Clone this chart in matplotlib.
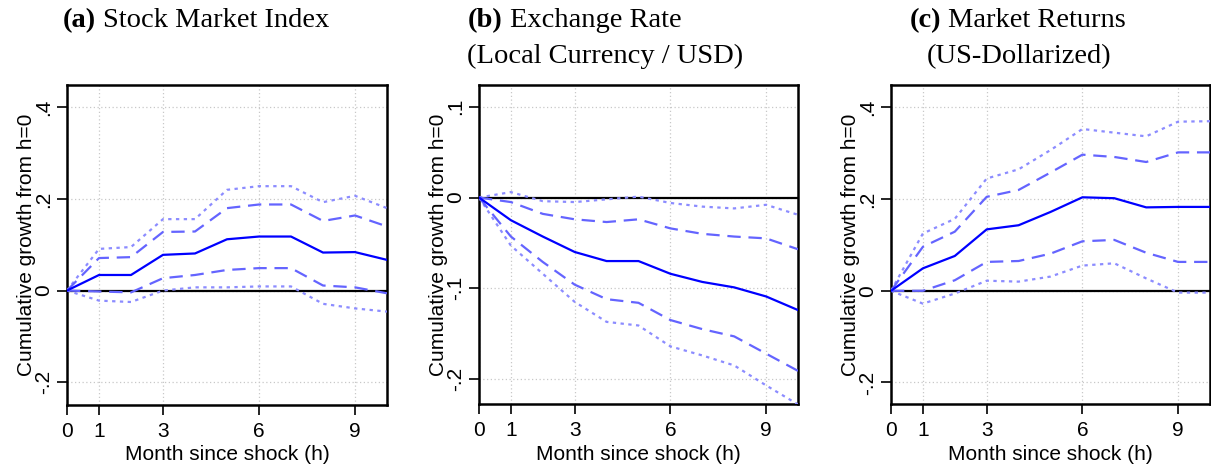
import matplotlib
matplotlib.use("Agg")
import matplotlib.pyplot as plt

h = [0, 1, 2, 3, 4, 5, 6, 7, 8, 9, 10]

# Panel (a) Stock Market Index
a_mean = [0, 0.034, 0.034, 0.078, 0.081, 0.112, 0.118, 0.118, 0.083, 0.084, 0.067]
a_up90 = [0, 0.071, 0.073, 0.128, 0.129, 0.180, 0.188, 0.188, 0.152, 0.164, 0.140]
a_lo90 = [0, -0.002, -0.004, 0.027, 0.034, 0.045, 0.049, 0.049, 0.011, 0.007, -0.006]
a_up95 = [0, 0.091, 0.095, 0.156, 0.156, 0.220, 0.228, 0.228, 0.193, 0.207, 0.180]
a_lo95 = [0, -0.022, -0.025, 0.000, 0.007, 0.007, 0.009, 0.009, -0.029, -0.039, -0.046]

# Panel (b) Exchange Rate
b_mean = [0, -0.025, -0.043, -0.060, -0.070, -0.070, -0.084, -0.093, -0.099, -0.109, -0.124]
b_up90 = [0, -0.005, -0.018, -0.024, -0.027, -0.024, -0.034, -0.040, -0.043, -0.045, -0.057]
b_lo90 = [0, -0.043, -0.071, -0.096, -0.112, -0.116, -0.135, -0.145, -0.153, -0.172, -0.191]
b_up95 = [0, 0.006, -0.004, -0.005, -0.002, 0.001, -0.006, -0.010, -0.012, -0.008, -0.019]
b_lo95 = [0, -0.053, -0.084, -0.115, -0.137, -0.141, -0.164, -0.174, -0.185, -0.207, -0.228]

# Panel (c) Market Returns (US-Dollarized)
c_mean = [0, 0.049, 0.076, 0.134, 0.143, 0.172, 0.204, 0.202, 0.182, 0.183, 0.183]
c_up90 = [0, 0.096, 0.129, 0.205, 0.220, 0.258, 0.297, 0.292, 0.281, 0.302, 0.302]
c_lo90 = [0, 0.000, 0.023, 0.063, 0.065, 0.081, 0.108, 0.111, 0.083, 0.063, 0.063]
c_up95 = [0, 0.125, 0.157, 0.245, 0.265, 0.307, 0.353, 0.345, 0.337, 0.369, 0.370]
c_lo95 = [0, -0.028, -0.006, 0.022, 0.020, 0.031, 0.055, 0.060, 0.027, -0.004, -0.004]

x_ticks = [0, 1, 3, 6, 9]
ac_yticks = [-0.2, 0, 0.2, 0.4]
ac_ylabels = ["-.2", "0", ".2", ".4"]
b_yticks = [-0.2, -0.1, 0, 0.1]
b_ylabels = ["-.2", "-.1", "0", ".1"]

W, H = 1211, 467
fig = plt.figure(figsize=(W / 100, H / 100), dpi=100)

sans = ["Liberation Sans", "DejaVu Sans"]
serif = ["Liberation Serif", "DejaVu Serif"]
FS = 15
TFS = 20.5

panels = [
    dict(left=67, right=387, top=85, bottom=405, data=(a_mean, a_up90, a_lo90, a_up95, a_lo95),
         ylim=(-0.25, 0.449), yt=ac_yticks, yl=ac_ylabels),
    dict(left=479, right=798, top=85, bottom=404, data=(b_mean, b_up90, b_lo90, b_up95, b_lo95),
         ylim=(-0.2275, 0.124), yt=b_yticks, yl=b_ylabels),
    dict(left=891, right=1210, top=85, bottom=404, data=(c_mean, c_up90, c_lo90, c_up95, c_lo95),
         ylim=(-0.247, 0.449), yt=ac_yticks, yl=ac_ylabels),
]

for p in panels:
    wpx = p["right"] - p["left"]
    hpx = p["bottom"] - p["top"]
    ax = fig.add_axes([p["left"] / W, 1 - p["bottom"] / H, wpx / W, hpx / H])
    mean, up90, lo90, up95, lo95 = p["data"]
    ax.grid(True, color="#c8c8c8", linestyle=(0, (1, 2)), linewidth=0.9)
    ax.set_axisbelow(True)
    ax.axhline(0, color="black", linewidth=1.6, zorder=2)
    ax.plot(h, up95, color="#8c8cff", linestyle=(0, (1.5, 2)), linewidth=1.6, zorder=3)
    ax.plot(h, lo95, color="#8c8cff", linestyle=(0, (1.5, 2)), linewidth=1.6, zorder=3)
    ax.plot(h, up90, color="#6464ff", linestyle=(0, (6, 3.5)), linewidth=1.6, zorder=3)
    ax.plot(h, lo90, color="#6464ff", linestyle=(0, (6, 3.5)), linewidth=1.6, zorder=3)
    ax.plot(h, mean, color="#0000ff", linestyle="-", linewidth=1.6, zorder=4)
    ax.set_xlim(0, 10)
    ax.set_ylim(*p["ylim"])
    ax.set_xticks(x_ticks)
    ax.set_xticklabels([str(t) for t in x_ticks], fontfamily=sans, fontsize=FS)
    ax.set_yticks(p["yt"])
    ax.set_yticklabels(p["yl"], fontfamily=sans, fontsize=FS, rotation=90, va="center")
    for s in ax.spines.values():
        s.set_linewidth(1.8)
        s.set_color("black")
    ax.tick_params(direction="out", length=7, width=1.2)
    ax.tick_params(axis="x", pad=5)
    ax.tick_params(axis="y", pad=3)
    ax.set_xlabel("Month since shock (h)", fontfamily=sans, fontsize=FS)
    ax.set_ylabel("Cumulative growth from h=0", fontfamily=sans, fontsize=FS)
    ax.xaxis.set_label_coords(0.5, -(460 - p["bottom"]) / hpx)
    ax.xaxis.label.set_va("baseline")
    ax.yaxis.set_label_coords(-31 / wpx, 0.5)

fig.canvas.draw()
renderer = fig.canvas.get_renderer()


def place_title(x_left, baseline, bold, rest):
    tb = fig.text(x_left / W, 1 - baseline / H, bold, fontfamily=serif, fontweight="bold",
                  fontsize=TFS, va="baseline", ha="left")
    bb = tb.get_window_extent(renderer)
    fig.text((bb.x1 + 7) / W, 1 - baseline / H, rest, fontfamily=serif, fontsize=TFS,
             va="baseline", ha="left")


place_title(63, 27, "(a)", "Stock Market Index")
place_title(468, 27, "(b)", "Exchange Rate")
fig.text(467 / W, 1 - 63 / H, "(Local Currency / USD)", fontfamily=serif, fontsize=TFS,
         va="baseline", ha="left")
place_title(910, 27, "(c)", "Market Returns")
fig.text(1019 / W, 1 - 63 / H, "(US-Dollarized)", fontfamily=serif, fontsize=TFS,
         va="baseline", ha="center")

fig.savefig("out.png", dpi=100)
